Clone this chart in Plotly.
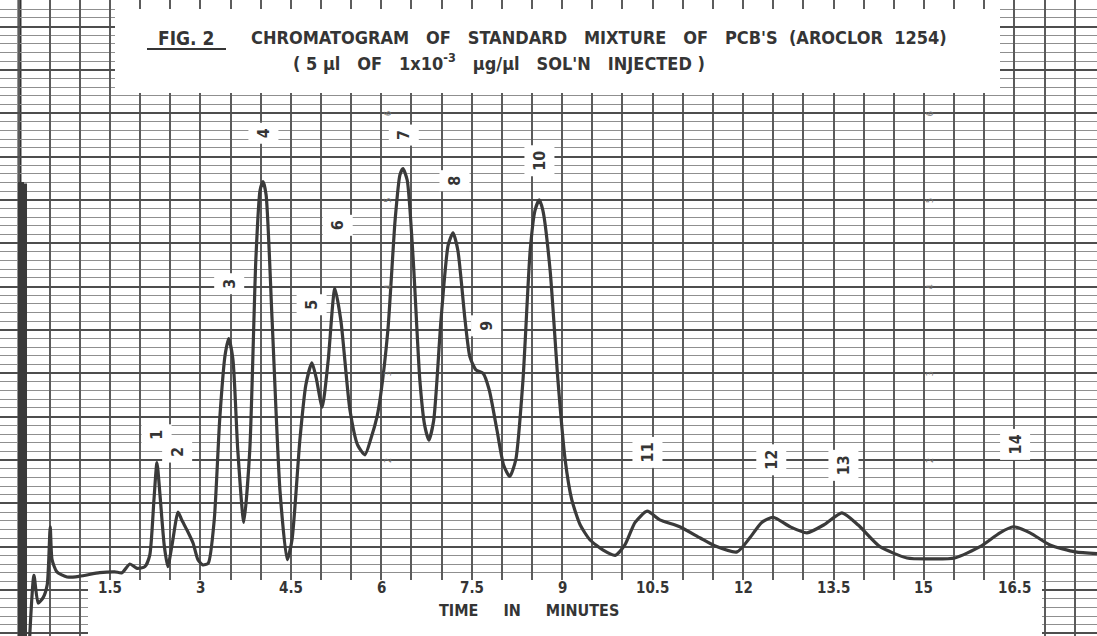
import plotly.graph_objects as go

# ---------------- data ----------------
# solvent / injection pen stroke at the start of the run
solvent_time = [0.0, 0.0, 0.05, 0.05, 0.10, 0.10, 0.10]
solvent_resp = [-0.03, 5.19, 5.19, -0.03, -0.03, 5.19, -0.03]

time_min = [0.17, 0.24, 0.31, 0.39, 0.46, 0.51, 0.54, 0.62, 0.79, 1.00, 1.33, 1.58,
            1.70, 1.83, 1.95, 2.08, 2.16, 2.23, 2.28, 2.33, 2.40, 2.46, 2.53, 2.63, 2.69, 2.78, 2.88,
            2.96, 3.04, 3.13, 3.23, 3.32, 3.41, 3.47, 3.54, 3.62, 3.72, 3.82, 3.92, 3.99, 4.04, 4.09,
            4.19, 4.32, 4.44, 4.52, 4.65, 4.75, 4.85, 4.92, 5.02, 5.12, 5.23, 5.33, 5.48, 5.61, 5.73,
            5.83, 5.93, 5.99, 6.11, 6.23, 6.31, 6.36, 6.43, 6.53, 6.64, 6.72, 6.79, 6.87, 6.99, 7.11,
            7.19, 7.27, 7.39, 7.47, 7.57, 7.69, 7.79, 7.92, 8.03, 8.13, 8.23, 8.35, 8.47, 8.55, 8.62,
            8.68, 8.80, 8.93, 9.05, 9.16, 9.30, 9.46, 9.68, 9.88, 10.04, 10.21, 10.41, 10.62, 10.95,
            11.29, 11.53, 11.90, 12.11, 12.31, 12.50, 12.78, 13.06, 13.36, 13.64, 13.91, 14.27, 14.72,
            15.10, 15.51, 15.93, 16.26, 16.48, 16.76, 17.09, 17.51, 17.87]
response = [-0.03, 0.67, 0.35, 0.41, 0.56, 1.23, 0.85, 0.71, 0.65, 0.66, 0.70, 0.71,
            0.70, 0.80, 0.75, 0.77, 0.90, 1.54, 1.97, 1.60, 1.02, 0.77, 1.02, 1.40, 1.31, 1.19, 1.04,
            0.85, 0.79, 0.81, 1.31, 2.46, 3.21, 3.40, 3.16, 2.12, 1.28, 2.12, 4.31, 5.11, 5.21, 5.06,
            3.61, 1.65, 0.85, 1.08, 2.23, 2.87, 3.12, 2.95, 2.61, 3.15, 3.98, 3.61, 2.58, 2.17, 2.06,
            2.25, 2.50, 2.75, 3.50, 4.77, 5.29, 5.36, 5.23, 4.31, 2.92, 2.40, 2.23, 2.46, 3.61, 4.48,
            4.62, 4.42, 3.61, 3.19, 3.04, 3.00, 2.81, 2.34, 1.94, 1.81, 2.00, 2.92, 4.42, 4.88, 5.00,
            4.88, 4.19, 2.92, 2.00, 1.54, 1.25, 1.08, 0.96, 0.90, 1.02, 1.28, 1.41, 1.31, 1.23,
            1.10, 1.01, 0.94, 1.10, 1.28, 1.34, 1.23, 1.16, 1.26, 1.39, 1.25, 1.00, 0.87,
            0.86, 0.87, 1.00, 1.16, 1.23, 1.16, 1.02, 0.94, 0.92]

peak_numbers = ["1", "2", "3", "4", "5", "6", "7", "8", "9", "10", "11", "12", "13", "14"]
tick_values = [1.5, 3, 4.5, 6, 7.5, 9, 10.5, 12, 13.5, 15, 16.5]
tick_labels = ["1.5", "3", "4.5", "6", "7.5", "9", "10.5", "12", "13.5", "15", "16.5"]
paper_scale = ["2", "3", "4", "5", "6"]

# ---------------- layout helpers (positions / styles) ----------------
label_pos = [(2.28, 2.29), (2.61, 2.09), (3.47, 4.03), (4.04, 5.77), (4.85, 3.79), (5.27, 4.71),
             (6.38, 5.75), (7.22, 5.22), (7.74, 3.55), (8.63, 5.45), (10.41, 2.09), (12.46, 2.00),
             (13.66, 1.94), (16.51, 2.18)]
scale_cols = [6.11, 15.10]

INK = "#353535"
TRACE = "#3a3a3a"
FONT = "DejaVu Sans Condensed, DejaVu Sans, sans-serif"
W, H = 1097, 636

fig = go.Figure()
fig.add_trace(go.Scatter(
    x=solvent_time, y=solvent_resp, mode="lines",
    line=dict(color=TRACE, width=3), hoverinfo="skip", showlegend=False))
fig.add_trace(go.Scatter(
    x=time_min, y=response, mode="lines",
    line=dict(color=TRACE, width=3.2, shape="spline", smoothing=0.6),
    hoverinfo="skip", showlegend=False))

fig.update_layout(
    width=W, height=H,
    margin=dict(l=0, r=0, t=0, b=0),
    paper_bgcolor="white", plot_bgcolor="white",
    xaxis=dict(range=[-0.323, 17.87], showticklabels=False, ticks="", zeroline=False,
               showgrid=True, dtick=0.5, tick0=0, gridcolor="#5c5c5c", gridwidth=1.6,
               showline=False),
    yaxis=dict(range=[-0.03, 7.306], showticklabels=False, ticks="", zeroline=False,
               showgrid=True, dtick=0.5, tick0=0, gridcolor="#4e4e4e", gridwidth=2,
               minor=dict(dtick=0.1, showgrid=True, gridcolor="#8f8f8f", gridwidth=1.3),
               showline=False),
)

shapes = []
# thin chart-edge line at time zero
shapes.append(dict(type="line", xref="x", yref="paper", x0=0, x1=0, y0=0, y1=1,
                   line=dict(color="#333333", width=4), layer="below"))
# title box
shapes.append(dict(type="rect", xref="paper", yref="paper", x0=115/W, x1=1000/W,
                   y0=1-93/H, y1=1-9/H, fillcolor="white", line=dict(width=0), layer="above"))
# bottom label box
shapes.append(dict(type="rect", xref="paper", yref="paper", x0=88/W, x1=1042/W,
                   y0=0, y1=1-580/H, fillcolor="white", line=dict(width=0), layer="above"))
# FIG. 2 underline
shapes.append(dict(type="line", xref="paper", yref="paper", x0=147/W, x1=226/W,
                   y0=1-49/H, y1=1-49/H, line=dict(color=INK, width=2), layer="above"))
fig.update_layout(shapes=shapes)


def txt(x, y, text, size, xref="paper", yref="paper", **kw):
    d = dict(x=x, y=y, xref=xref, yref=yref, text=text, showarrow=False,
             xanchor="center", yanchor="middle",
             font=dict(family=FONT, size=size, color=kw.pop("color", INK)))
    d.update(kw)
    return d


ann = []
ann.append(txt(186/W, 1-38/H, "<b>FIG.&nbsp;2</b>", 19))
ann.append(txt(599/W, 1-38/H,
               "<b>CHROMATOGRAM&nbsp;&nbsp; OF&nbsp;&nbsp; STANDARD&nbsp;&nbsp; MIXTURE&nbsp;&nbsp; OF&nbsp;&nbsp; PCB'S&nbsp; (AROCLOR&nbsp; 1254)</b>",
               18))
ann.append(txt(499/W, 1-62/H,
               "<b>(&nbsp;5 µl&nbsp;&nbsp; OF&nbsp;&nbsp; 1x10<sup>-3</sup>&nbsp;&nbsp; µg/µl&nbsp;&nbsp; SOL'N&nbsp;&nbsp; INJECTED&nbsp;)</b>",
               18))

for tv, tl in zip(tick_values, tick_labels):
    ann.append(txt(tv, 1-588/H, "<b>" + tl + "</b>", 15, xref="x"))
ann.append(txt(8.45, 1-610/H, "<b>TIME&nbsp;&nbsp;&nbsp;&nbsp; IN&nbsp;&nbsp;&nbsp;&nbsp; MINUTES</b>", 16, xref="x"))

for num, (px, py) in zip(peak_numbers, label_pos):
    ann.append(txt(px, py, "<b>" + num + "</b>", 16, xref="x", yref="y", textangle=-90,
                   bgcolor="white", borderpad=5))

for cx in scale_cols:
    for s in paper_scale:
        ann.append(txt(cx, float(s), s, 9, xref="x", yref="y", textangle=-90, color="#777777"))

fig.update_layout(annotations=ann)
fig.write_html("out.html")
